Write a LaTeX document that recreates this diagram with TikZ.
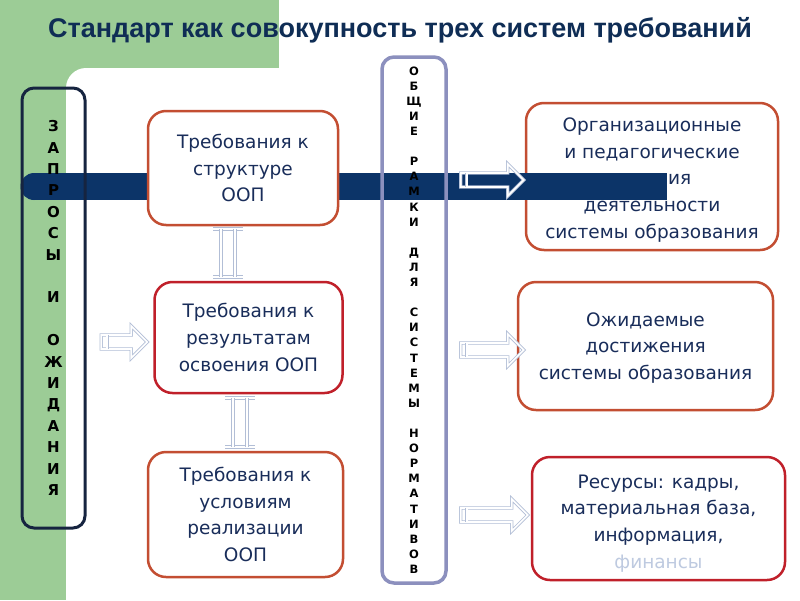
\documentclass[tikz,border=0pt]{standalone}
\usepackage{fontspec}
\setmainfont{DejaVu Sans}
\newfontfamily\headfont{Liberation Sans}
\usepackage{xcolor}
\usepackage{tikz}
\usetikzlibrary{positioning}
\usetikzlibrary{calc}

\definecolor{bggreen}{RGB}{156,204,150}
\definecolor{barnavy}{RGB}{12,52,104}
\definecolor{titlenavy}{RGB}{15,45,85}
\definecolor{textnavy}{RGB}{25,45,90}
\definecolor{framenavy}{RGB}{22,36,64}
\definecolor{frameslate}{RGB}{140,144,190}
\definecolor{boxorange}{RGB}{195,78,50}
\definecolor{boxred}{RGB}{192,32,42}
\definecolor{pipegray}{RGB}{178,190,214}
\definecolor{fadedtext}{RGB}{190,202,224}

\tikzset{
  reqbox/.style={draw=boxorange,line width=2.5pt,rounded corners=18pt,fill=white,
    align=center,text=textnavy,font=\fontsize{18.5}{26.7}\selectfont,inner sep=0pt},
  framebox/.style={line width=3pt,rounded corners=12pt,align=center,inner sep=0pt},
  pipe/.style={draw=pipegray,double=white,double distance=1.6pt,line width=0.8pt},
}

% hollow arrow ending at #1, total length #2
\newcommand{\hollowarrow}[2]{%
  \draw[pipe,shift={#1}] (-#2,-7) -- (-16,-7) -- (-16,-16) -- (0,0) -- (-16,16) -- (-16,7) -- (-#2,7) -- cycle;
  \draw[pipe,shift={#1}] (-#2+6,-7) -- (-#2+6,7);}

% double joint between two coordinates
\newcommand{\pipejoint}[2]{%
  \draw[pipe] ([xshift=-15pt]#1) -- ([xshift=15pt]#1);
  \draw[pipe] ([xshift=-15pt]#2) -- ([xshift=15pt]#2);
  \draw[pipe] ([xshift=-7pt]#1) -- ([xshift=-7pt]#2);
  \draw[pipe] ([xshift=7pt]#1) -- ([xshift=7pt]#2);}

\begin{document}
\begin{tikzpicture}[x=1pt,y=-1pt]
\useasboundingbox (0,0) rectangle (800,600);

% background
\fill[bggreen] (0,0) rectangle (800,600);
\fill[white] (66,600) -- (66,88) .. controls (66,77) and (75,68) .. (86,68) -- (279,68) -- (279,0) -- (800,0) -- (800,600) -- cycle;

\node[font=\headfont\bfseries\fontsize{27}{30}\selectfont,text=titlenavy] (title) at (400,30) {Стандарт как совокупность трех систем требований};

\node[reqbox,minimum width=252,minimum height=147] (cond) at (652,176.5)
  {\rule{0pt}{20.5pt}Организационные\\и педагогические\\условия\\деятельности\\системы образования};

% band
\fill[barnavy] (34,173) rectangle (667,200);
\fill[barnavy] (34,186.5) circle (13.5);

\hollowarrow{([xshift=-1pt,yshift=-3.5pt]cond.west)}{63}

\node[framebox,draw=framenavy,minimum width=63,minimum height=440,
  font=\bfseries\fontsize{15}{21.4}\selectfont] (requests) at (53.5,308)
  {З\\А\\П\\Р\\О\\С\\Ы\\~\\И\\~\\О\\Ж\\И\\Д\\А\\Н\\И\\Я};

\node[framebox,draw=frameslate,line width=3.5pt,minimum width=64,minimum height=526,
  font=\bfseries\fontsize{11.5}{15.1}\selectfont] (frames) at (414,320)
  {О\\Б\\Щ\\И\\Е\\~\\Р\\А\\М\\К\\И\\~\\Д\\Л\\Я\\~\\С\\И\\С\\Т\\Е\\М\\Ы\\~\\Н\\О\\Р\\М\\А\\Т\\И\\В\\О\\В};

\node[reqbox,minimum width=190,minimum height=114] (struct) at (243,168)
  {Требования к\\структуре\\ООП};
\node[reqbox,draw=boxred,minimum width=188,minimum height=111] (result) at (248.5,337.5)
  {Требования к\\результатам\\освоения ООП};
\node[reqbox,minimum width=195,minimum height=125] (impl) at (245.5,514.5)
  {Требования к\\условиям\\реализации\\ООП};

\node[reqbox,minimum width=255,minimum height=128] (goals) at (645.5,346)
  {\rule{0pt}{17.5pt}Ожидаемые\\достижения\\системы образования};
\node[reqbox,draw=boxred,minimum width=253,minimum height=123] (res) at (658.5,518.5)
  {\rule{0pt}{23.5pt}Ресурсы: кадры,\\ материальная база,\\информация,\\\textcolor{fadedtext}{финансы}};

% joints
\coordinate (j1t) at (228,229);
\coordinate (j1b) at (228,277);
\coordinate (j2t) at (240,398);
\coordinate (j2b) at (240,447);
\pipejoint{j1t}{j1b}
\pipejoint{j2t}{j2b}

% arrows
\hollowarrow{([xshift=-6pt,yshift=-4.5pt]result.west)}{46}
\hollowarrow{([xshift=7pt,yshift=-4pt]goals.west)}{63}
\hollowarrow{([xshift=-3pt,yshift=3.5pt]res.west)}{67}
\end{tikzpicture}
\end{document}
